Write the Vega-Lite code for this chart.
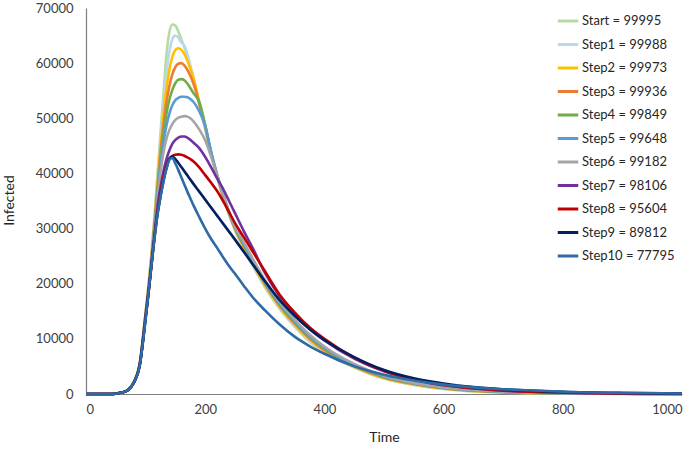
{
  "$schema": "https://vega.github.io/schema/vega-lite/v6.json",
  "width": 596,
  "height": 386,
  "autosize": {"type": "none"},
  "padding": {"left": 86, "top": 8, "right": 17, "bottom": 57},
  "background": "white",
  "data": {
    "values": [
      {"t": 0, "Start = 99995": 0, "Step1 = 99988": 0, "Step2 = 99973": 0, "Step3 = 99936": 0, "Step4 = 99849": 0, "Step5 = 99648": 0, "Step6 = 99182": 0, "Step7 = 98106": 0, "Step8 = 95604": 0, "Step9 = 89812": 0, "Step10 = 77795": 0},
      {"t": 40, "Start = 99995": 0, "Step1 = 99988": 0, "Step2 = 99973": 0, "Step3 = 99936": 0, "Step4 = 99849": 0, "Step5 = 99648": 0, "Step6 = 99182": 0, "Step7 = 98106": 0, "Step8 = 95604": 0, "Step9 = 89812": 0, "Step10 = 77795": 0},
      {"t": 50, "Start = 99995": 60, "Step1 = 99988": 60, "Step2 = 99973": 60, "Step3 = 99936": 60, "Step4 = 99849": 60, "Step5 = 99648": 60, "Step6 = 99182": 60, "Step7 = 98106": 60, "Step8 = 95604": 60, "Step9 = 89812": 60, "Step10 = 77795": 60},
      {"t": 60, "Start = 99995": 250, "Step1 = 99988": 250, "Step2 = 99973": 250, "Step3 = 99936": 250, "Step4 = 99849": 250, "Step5 = 99648": 250, "Step6 = 99182": 250, "Step7 = 98106": 250, "Step8 = 95604": 250, "Step9 = 89812": 250, "Step10 = 77795": 250},
      {"t": 70, "Start = 99995": 700, "Step1 = 99988": 700, "Step2 = 99973": 690, "Step3 = 99936": 690, "Step4 = 99849": 680, "Step5 = 99648": 680, "Step6 = 99182": 680, "Step7 = 98106": 680, "Step8 = 95604": 680, "Step9 = 89812": 680, "Step10 = 77795": 680},
      {"t": 80, "Start = 99995": 2100, "Step1 = 99988": 2080, "Step2 = 99973": 2060, "Step3 = 99936": 2050, "Step4 = 99849": 2040, "Step5 = 99648": 2030, "Step6 = 99182": 2020, "Step7 = 98106": 2010, "Step8 = 95604": 2000, "Step9 = 89812": 2000, "Step10 = 77795": 2000},
      {"t": 90, "Start = 99995": 5500, "Step1 = 99988": 5450, "Step2 = 99973": 5400, "Step3 = 99936": 5350, "Step4 = 99849": 5300, "Step5 = 99648": 5250, "Step6 = 99182": 5200, "Step7 = 98106": 5150, "Step8 = 95604": 5100, "Step9 = 89812": 5100, "Step10 = 77795": 5100},
      {"t": 100, "Start = 99995": 14800, "Step1 = 99988": 14700, "Step2 = 99973": 14600, "Step3 = 99936": 14500, "Step4 = 99849": 14400, "Step5 = 99648": 14300, "Step6 = 99182": 14200, "Step7 = 98106": 14000, "Step8 = 95604": 13800, "Step9 = 89812": 13700, "Step10 = 77795": 13600},
      {"t": 105, "Start = 99995": 20000, "Step1 = 99988": 19700, "Step2 = 99973": 19400, "Step3 = 99936": 19200, "Step4 = 99849": 19000, "Step5 = 99648": 18800, "Step6 = 99182": 18700, "Step7 = 98106": 18600, "Step8 = 95604": 18500, "Step9 = 89812": 18500, "Step10 = 77795": 18500},
      {"t": 110, "Start = 99995": 25800, "Step1 = 99988": 25400, "Step2 = 99973": 25000, "Step3 = 99936": 24700, "Step4 = 99849": 24400, "Step5 = 99648": 24200, "Step6 = 99182": 24000, "Step7 = 98106": 23800, "Step8 = 95604": 23600, "Step9 = 89812": 23500, "Step10 = 77795": 23500},
      {"t": 115, "Start = 99995": 32500, "Step1 = 99988": 31900, "Step2 = 99973": 31400, "Step3 = 99936": 30900, "Step4 = 99849": 30500, "Step5 = 99648": 30100, "Step6 = 99182": 29700, "Step7 = 98106": 29100, "Step8 = 95604": 28600, "Step9 = 89812": 28400, "Step10 = 77795": 28400},
      {"t": 120, "Start = 99995": 40000, "Step1 = 99988": 39200, "Step2 = 99973": 38400, "Step3 = 99936": 37600, "Step4 = 99849": 36900, "Step5 = 99648": 36200, "Step6 = 99182": 35400, "Step7 = 98106": 34000, "Step8 = 95604": 33000, "Step9 = 89812": 32600, "Step10 = 77795": 32600},
      {"t": 125, "Start = 99995": 47300, "Step1 = 99988": 46200, "Step2 = 99973": 44900, "Step3 = 99936": 43700, "Step4 = 99849": 42500, "Step5 = 99648": 41400, "Step6 = 99182": 40200, "Step7 = 98106": 37500, "Step8 = 95604": 36400, "Step9 = 89812": 35800, "Step10 = 77795": 35800},
      {"t": 130, "Start = 99995": 54500, "Step1 = 99988": 52700, "Step2 = 99973": 50700, "Step3 = 99936": 48900, "Step4 = 99849": 47200, "Step5 = 99648": 45600, "Step6 = 99182": 43800, "Step7 = 98106": 40400, "Step8 = 95604": 39300, "Step9 = 89812": 38600, "Step10 = 77795": 38600},
      {"t": 135, "Start = 99995": 61500, "Step1 = 99988": 58200, "Step2 = 99973": 55400, "Step3 = 99936": 52900, "Step4 = 99849": 50800, "Step5 = 99648": 48700, "Step6 = 99182": 46300, "Step7 = 98106": 42600, "Step8 = 95604": 41400, "Step9 = 89812": 40900, "Step10 = 77795": 40900},
      {"t": 140, "Start = 99995": 65700, "Step1 = 99988": 62100, "Step2 = 99973": 58900, "Step3 = 99936": 55900, "Step4 = 99849": 53400, "Step5 = 99648": 50900, "Step6 = 99182": 47900, "Step7 = 98106": 44200, "Step8 = 95604": 42700, "Step9 = 89812": 42600, "Step10 = 77795": 42500},
      {"t": 145, "Start = 99995": 67000, "Step1 = 99988": 64400, "Step2 = 99973": 61200, "Step3 = 99936": 58000, "Step4 = 99849": 55200, "Step5 = 99648": 52400, "Step6 = 99182": 49000, "Step7 = 98106": 45400, "Step8 = 95604": 43200, "Step9 = 89812": 43000, "Step10 = 77795": 42800},
      {"t": 150, "Start = 99995": 66800, "Step1 = 99988": 65000, "Step2 = 99973": 62400, "Step3 = 99936": 59300, "Step4 = 99849": 56400, "Step5 = 99648": 53300, "Step6 = 99182": 49700, "Step7 = 98106": 46100, "Step8 = 95604": 43400, "Step9 = 89812": 42600, "Step10 = 77795": 41800},
      {"t": 155, "Start = 99995": 65700, "Step1 = 99988": 64600, "Step2 = 99973": 62700, "Step3 = 99936": 59900, "Step4 = 99849": 57000, "Step5 = 99648": 53700, "Step6 = 99182": 50100, "Step7 = 98106": 46500, "Step8 = 95604": 43450, "Step9 = 89812": 41900, "Step10 = 77795": 40600},
      {"t": 160, "Start = 99995": 64300, "Step1 = 99988": 63700, "Step2 = 99973": 62400, "Step3 = 99936": 60000, "Step4 = 99849": 57100, "Step5 = 99648": 53900, "Step6 = 99182": 50300, "Step7 = 98106": 46700, "Step8 = 95604": 43400, "Step9 = 89812": 41150, "Step10 = 77795": 39300},
      {"t": 165, "Start = 99995": 62900, "Step1 = 99988": 63200, "Step2 = 99973": 61700, "Step3 = 99936": 59600, "Step4 = 99849": 56900, "Step5 = 99648": 53900, "Step6 = 99182": 50400, "Step7 = 98106": 46700, "Step8 = 95604": 43200, "Step9 = 89812": 40400, "Step10 = 77795": 38000},
      {"t": 170, "Start = 99995": 61300, "Step1 = 99988": 61700, "Step2 = 99973": 60500, "Step3 = 99936": 58800, "Step4 = 99849": 56300, "Step5 = 99648": 53800, "Step6 = 99182": 50300, "Step7 = 98106": 46500, "Step8 = 95604": 42900, "Step9 = 89812": 39650, "Step10 = 77795": 36700},
      {"t": 175, "Start = 99995": 59300, "Step1 = 99988": 59600, "Step2 = 99973": 59000, "Step3 = 99936": 57700, "Step4 = 99849": 55500, "Step5 = 99648": 53500, "Step6 = 99182": 50000, "Step7 = 98106": 46100, "Step8 = 95604": 42600, "Step9 = 89812": 38900, "Step10 = 77795": 35500},
      {"t": 180, "Start = 99995": 57300, "Step1 = 99988": 57500, "Step2 = 99973": 57400, "Step3 = 99936": 56400, "Step4 = 99849": 54600, "Step5 = 99648": 53000, "Step6 = 99182": 49500, "Step7 = 98106": 45600, "Step8 = 95604": 42200, "Step9 = 89812": 38150, "Step10 = 77795": 34300},
      {"t": 190, "Start = 99995": 52500, "Step1 = 99988": 52700, "Step2 = 99973": 52900, "Step3 = 99936": 52700, "Step4 = 99849": 53000, "Step5 = 99648": 51300, "Step6 = 99182": 48000, "Step7 = 98106": 44600, "Step8 = 95604": 41100, "Step9 = 89812": 36700, "Step10 = 77795": 32100},
      {"t": 200, "Start = 99995": 48000, "Step1 = 99988": 48200, "Step2 = 99973": 48400, "Step3 = 99936": 48600, "Step4 = 99849": 48800, "Step5 = 99648": 48600, "Step6 = 99182": 46000, "Step7 = 98106": 43000, "Step8 = 95604": 39700, "Step9 = 89812": 35250, "Step10 = 77795": 30000},
      {"t": 210, "Start = 99995": 43400, "Step1 = 99988": 43500, "Step2 = 99973": 43600, "Step3 = 99936": 43700, "Step4 = 99849": 43800, "Step5 = 99648": 43900, "Step6 = 99182": 43000, "Step7 = 98106": 41100, "Step8 = 95604": 38300, "Step9 = 89812": 33800, "Step10 = 77795": 28100},
      {"t": 220, "Start = 99995": 39300, "Step1 = 99988": 39400, "Step2 = 99973": 39500, "Step3 = 99936": 39600, "Step4 = 99849": 39700, "Step5 = 99648": 39800, "Step6 = 99182": 39700, "Step7 = 98106": 39100, "Step8 = 95604": 36800, "Step9 = 89812": 32350, "Step10 = 77795": 26500},
      {"t": 230, "Start = 99995": 35700, "Step1 = 99988": 35800, "Step2 = 99973": 35900, "Step3 = 99936": 36000, "Step4 = 99849": 36100, "Step5 = 99648": 36200, "Step6 = 99182": 36300, "Step7 = 98106": 37200, "Step8 = 95604": 35000, "Step9 = 89812": 30900, "Step10 = 77795": 24800},
      {"t": 240, "Start = 99995": 32500, "Step1 = 99988": 32600, "Step2 = 99973": 32700, "Step3 = 99936": 32800, "Step4 = 99849": 32900, "Step5 = 99648": 33000, "Step6 = 99182": 33100, "Step7 = 98106": 35000, "Step8 = 95604": 33000, "Step9 = 89812": 29450, "Step10 = 77795": 23200},
      {"t": 250, "Start = 99995": 29700, "Step1 = 99988": 29800, "Step2 = 99973": 29900, "Step3 = 99936": 30000, "Step4 = 99849": 30100, "Step5 = 99648": 30200, "Step6 = 99182": 30300, "Step7 = 98106": 32800, "Step8 = 95604": 31000, "Step9 = 89812": 28000, "Step10 = 77795": 21800},
      {"t": 265, "Start = 99995": 26200, "Step1 = 99988": 26400, "Step2 = 99973": 26600, "Step3 = 99936": 26800, "Step4 = 99849": 27000, "Step5 = 99648": 27200, "Step6 = 99182": 27500, "Step7 = 98106": 29500, "Step8 = 95604": 28400, "Step9 = 89812": 25750, "Step10 = 77795": 19600},
      {"t": 280, "Start = 99995": 23200, "Step1 = 99988": 23400, "Step2 = 99973": 23600, "Step3 = 99936": 23800, "Step4 = 99849": 24000, "Step5 = 99648": 24200, "Step6 = 99182": 24500, "Step7 = 98106": 26400, "Step8 = 95604": 25800, "Step9 = 89812": 23500, "Step10 = 77795": 17500},
      {"t": 300, "Start = 99995": 19400, "Step1 = 99988": 19600, "Step2 = 99973": 19800, "Step3 = 99936": 20000, "Step4 = 99849": 20200, "Step5 = 99648": 20400, "Step6 = 99182": 20700, "Step7 = 98106": 22000, "Step8 = 95604": 22300, "Step9 = 89812": 20500, "Step10 = 77795": 15200},
      {"t": 325, "Start = 99995": 15400, "Step1 = 99988": 15600, "Step2 = 99973": 15800, "Step3 = 99936": 16000, "Step4 = 99849": 16200, "Step5 = 99648": 16400, "Step6 = 99182": 16700, "Step7 = 98106": 17700, "Step8 = 95604": 18000, "Step9 = 89812": 17000, "Step10 = 77795": 12600},
      {"t": 350, "Start = 99995": 12200, "Step1 = 99988": 12400, "Step2 = 99973": 12600, "Step3 = 99936": 12800, "Step4 = 99849": 13000, "Step5 = 99648": 13200, "Step6 = 99182": 13500, "Step7 = 98106": 14400, "Step8 = 95604": 14800, "Step9 = 89812": 14200, "Step10 = 77795": 10400},
      {"t": 375, "Start = 99995": 9500, "Step1 = 99988": 9700, "Step2 = 99973": 9900, "Step3 = 99936": 10100, "Step4 = 99849": 10300, "Step5 = 99648": 10500, "Step6 = 99182": 10800, "Step7 = 98106": 11800, "Step8 = 95604": 12100, "Step9 = 89812": 11800, "Step10 = 77795": 8700},
      {"t": 400, "Start = 99995": 7500, "Step1 = 99988": 7600, "Step2 = 99973": 7800, "Step3 = 99936": 8000, "Step4 = 99849": 8200, "Step5 = 99648": 8400, "Step6 = 99182": 8600, "Step7 = 98106": 9700, "Step8 = 95604": 10000, "Step9 = 89812": 9800, "Step10 = 77795": 7300},
      {"t": 450, "Start = 99995": 4800, "Step1 = 99988": 4900, "Step2 = 99973": 4950, "Step3 = 99936": 5050, "Step4 = 99849": 5150, "Step5 = 99648": 5300, "Step6 = 99182": 5450, "Step7 = 98106": 6400, "Step8 = 95604": 6600, "Step9 = 89812": 6700, "Step10 = 77795": 5050},
      {"t": 500, "Start = 99995": 2800, "Step1 = 99988": 2850, "Step2 = 99973": 2900, "Step3 = 99936": 3000, "Step4 = 99849": 3100, "Step5 = 99648": 3200, "Step6 = 99182": 3300, "Step7 = 98106": 4100, "Step8 = 95604": 4200, "Step9 = 89812": 4350, "Step10 = 77795": 3500},
      {"t": 550, "Start = 99995": 1650, "Step1 = 99988": 1700, "Step2 = 99973": 1750, "Step3 = 99936": 1820, "Step4 = 99849": 1900, "Step5 = 99648": 1950, "Step6 = 99182": 2000, "Step7 = 98106": 2550, "Step8 = 95604": 2650, "Step9 = 89812": 2850, "Step10 = 77795": 2450},
      {"t": 600, "Start = 99995": 920, "Step1 = 99988": 960, "Step2 = 99973": 1000, "Step3 = 99936": 1060, "Step4 = 99849": 1100, "Step5 = 99648": 1150, "Step6 = 99182": 1200, "Step7 = 98106": 1600, "Step8 = 95604": 1650, "Step9 = 89812": 1900, "Step10 = 77795": 1700},
      {"t": 650, "Start = 99995": 480, "Step1 = 99988": 520, "Step2 = 99973": 560, "Step3 = 99936": 600, "Step4 = 99849": 640, "Step5 = 99648": 680, "Step6 = 99182": 720, "Step7 = 98106": 1000, "Step8 = 95604": 1050, "Step9 = 89812": 1250, "Step10 = 77795": 1200},
      {"t": 700, "Start = 99995": 260, "Step1 = 99988": 290, "Step2 = 99973": 310, "Step3 = 99936": 340, "Step4 = 99849": 370, "Step5 = 99648": 400, "Step6 = 99182": 430, "Step7 = 98106": 600, "Step8 = 95604": 650, "Step9 = 89812": 850, "Step10 = 77795": 850},
      {"t": 800, "Start = 99995": 80, "Step1 = 99988": 90, "Step2 = 99973": 100, "Step3 = 99936": 110, "Step4 = 99849": 120, "Step5 = 99648": 130, "Step6 = 99182": 150, "Step7 = 98106": 230, "Step8 = 95604": 260, "Step9 = 89812": 400, "Step10 = 77795": 420},
      {"t": 900, "Start = 99995": 25, "Step1 = 99988": 30, "Step2 = 99973": 35, "Step3 = 99936": 40, "Step4 = 99849": 45, "Step5 = 99648": 50, "Step6 = 99182": 55, "Step7 = 98106": 85, "Step8 = 95604": 100, "Step9 = 89812": 190, "Step10 = 77795": 200},
      {"t": 1000, "Start = 99995": 10, "Step1 = 99988": 10, "Step2 = 99973": 12, "Step3 = 99936": 14, "Step4 = 99849": 16, "Step5 = 99648": 18, "Step6 = 99182": 20, "Step7 = 98106": 30, "Step8 = 95604": 40, "Step9 = 89812": 90, "Step10 = 77795": 100}
    ]
  },
  "transform": [
    {
      "fold": ["Start = 99995", "Step1 = 99988", "Step2 = 99973", "Step3 = 99936", "Step4 = 99849", "Step5 = 99648", "Step6 = 99182", "Step7 = 98106", "Step8 = 95604", "Step9 = 89812", "Step10 = 77795"],
      "as": ["series", "infected"]
    }
  ],
  "mark": {"type": "line", "strokeWidth": 2.6, "interpolate": "monotone"},
  "encoding": {
    "x": {
      "field": "t",
      "type": "quantitative",
      "title": "Time",
      "scale": {"domain": [0, 1000], "nice": false},
      "axis": {
        "values": [0, 200, 400, 600, 800, 1000],
        "format": "d",
        "grid": false,
        "ticks": false,
        "labelPadding": 9,
        "titleY": 43,
        "titleBaseline": "middle"
      }
    },
    "y": {
      "field": "infected",
      "type": "quantitative",
      "title": "Infected",
      "scale": {"domain": [0, 70000], "nice": false},
      "axis": {
        "values": [0, 10000, 20000, 30000, 40000, 50000, 60000, 70000],
        "format": "d",
        "grid": false,
        "ticks": false,
        "labelPadding": 13,
        "titleX": -77,
        "titleY": 192,
        "titleBaseline": "middle",
        "titleAngle": -90
      }
    },
    "color": {
      "field": "series",
      "type": "nominal",
      "title": null,
      "scale": {
        "domain": ["Start = 99995", "Step1 = 99988", "Step2 = 99973", "Step3 = 99936", "Step4 = 99849", "Step5 = 99648", "Step6 = 99182", "Step7 = 98106", "Step8 = 95604", "Step9 = 89812", "Step10 = 77795"],
        "range": ["#b5dca0", "#bdd7ee", "#ffc000", "#ed7d31", "#70ad47", "#5b9bd5", "#a5a5a5", "#7030a0", "#c00000", "#002060", "#2e6aa6"]
      },
      "legend": {
        "orient": "none",
        "legendX": 470,
        "legendY": 1,
        "symbolType": "stroke",
        "symbolSize": 420,
        "symbolStrokeWidth": 3,
        "rowPadding": 4.5,
        "labelOffset": 2,
        "labelFontSize": 13,
        "labelColor": "#262626",
        "labelLimit": 200
      }
    }
  },
  "config": {
    "font": "Lato",
    "view": {"stroke": null},
    "axis": {
      "domainColor": "#7f7f7f",
      "domainWidth": 1.2,
      "labelFontSize": 13,
      "labelColor": "#404040",
      "titleFontSize": 14,
      "titleFontWeight": "normal",
      "titleColor": "#262626"
    }
  }
}
